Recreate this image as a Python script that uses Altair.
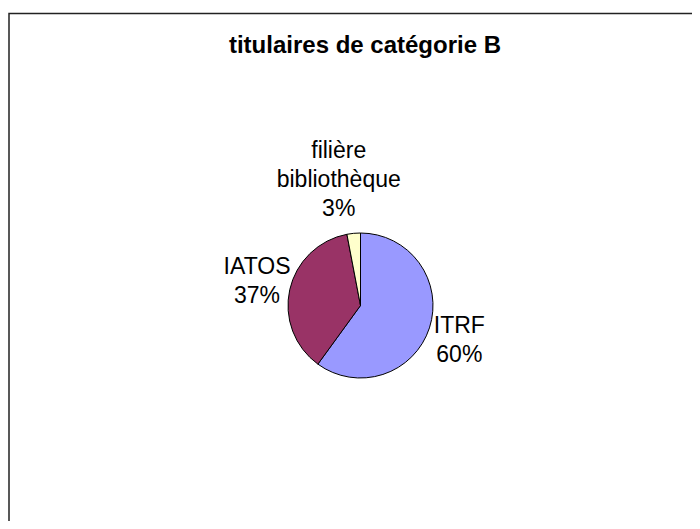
import altair as alt
import pandas as pd

TITLE = "titulaires de catégorie B"
categories = ["ITRF", "IATOS", "filière bibliothèque"]
values = [60, 37, 3]
order = [1, 2, 3]
colors = ["#9999FF", "#993366", "#FFFFCC"]

df = pd.DataFrame({"cat": categories, "val": values, "ord": order})

FONT = "Liberation Sans"
W, H = 300, 300
PAD = {"left": 202.5, "top": 147.5, "right": 181.5, "bottom": 65.5}

base = alt.Chart(df)

pie = base.mark_arc(radius=72.5, stroke="black", strokeWidth=1).encode(
    theta=alt.Theta("val:Q", stack=True, scale=alt.Scale(domain=[0, 100])),
    color=alt.Color("cat:N", scale=alt.Scale(domain=categories, range=colors), legend=None),
    order=alt.Order("ord:Q", sort="ascending"),
)

lab_base = base.transform_window(
    cum="sum(val)", sort=[alt.SortField("ord")]
).transform_calculate(
    mid="datum.cum - datum.val / 2",
    label="replace(datum.cat, ' ', '\\n') + '\\n' + datum.val + '%'",
)


def label_layer(cat, radius, dx=0, dy=0):
    return lab_base.transform_filter(alt.datum.cat == cat).mark_text(
        radius=radius, dx=dx, dy=dy, font=FONT, fontSize=23, lineHeight=29,
        lineBreak="\n", align="center", baseline="middle", color="black",
    ).encode(
        theta=alt.Theta("mid:Q", stack=False, scale=alt.Scale(domain=[0, 100])),
        text="label:N",
    )


labels = [
    label_layer("ITRF", 106, dx=-2, dy=-12),
    label_layer("IATOS", 106, dx=0, dy=-15),
    label_layer("filière bibliothèque", 125, dx=-10, dy=-30),
]

title = alt.Chart(pd.DataFrame({"t": [TITLE]})).mark_text(
    font=FONT, fontSize=24, fontWeight="bold", align="center",
    baseline="alphabetic", color="black",
).encode(text="t:N", x=alt.value(154.5), y=alt.value(-102.5))

frame = alt.Chart(pd.DataFrame({"f": [0]})).mark_rect(
    fill=None, stroke="#222222", strokeWidth=1.5
).encode(
    x=alt.value(-201.5), x2=alt.value(520),
    y=alt.value(-142), y2=alt.value(400),
)

chart = alt.layer(frame, pie, *labels, title).properties(
    width=W, height=H, padding=PAD, background="white",
    autosize=alt.AutoSizeParams(type="none"),
).configure_view(strokeWidth=0, stroke="transparent")

chart.save("out.html", embed_options={"renderer": "svg", "actions": False})
